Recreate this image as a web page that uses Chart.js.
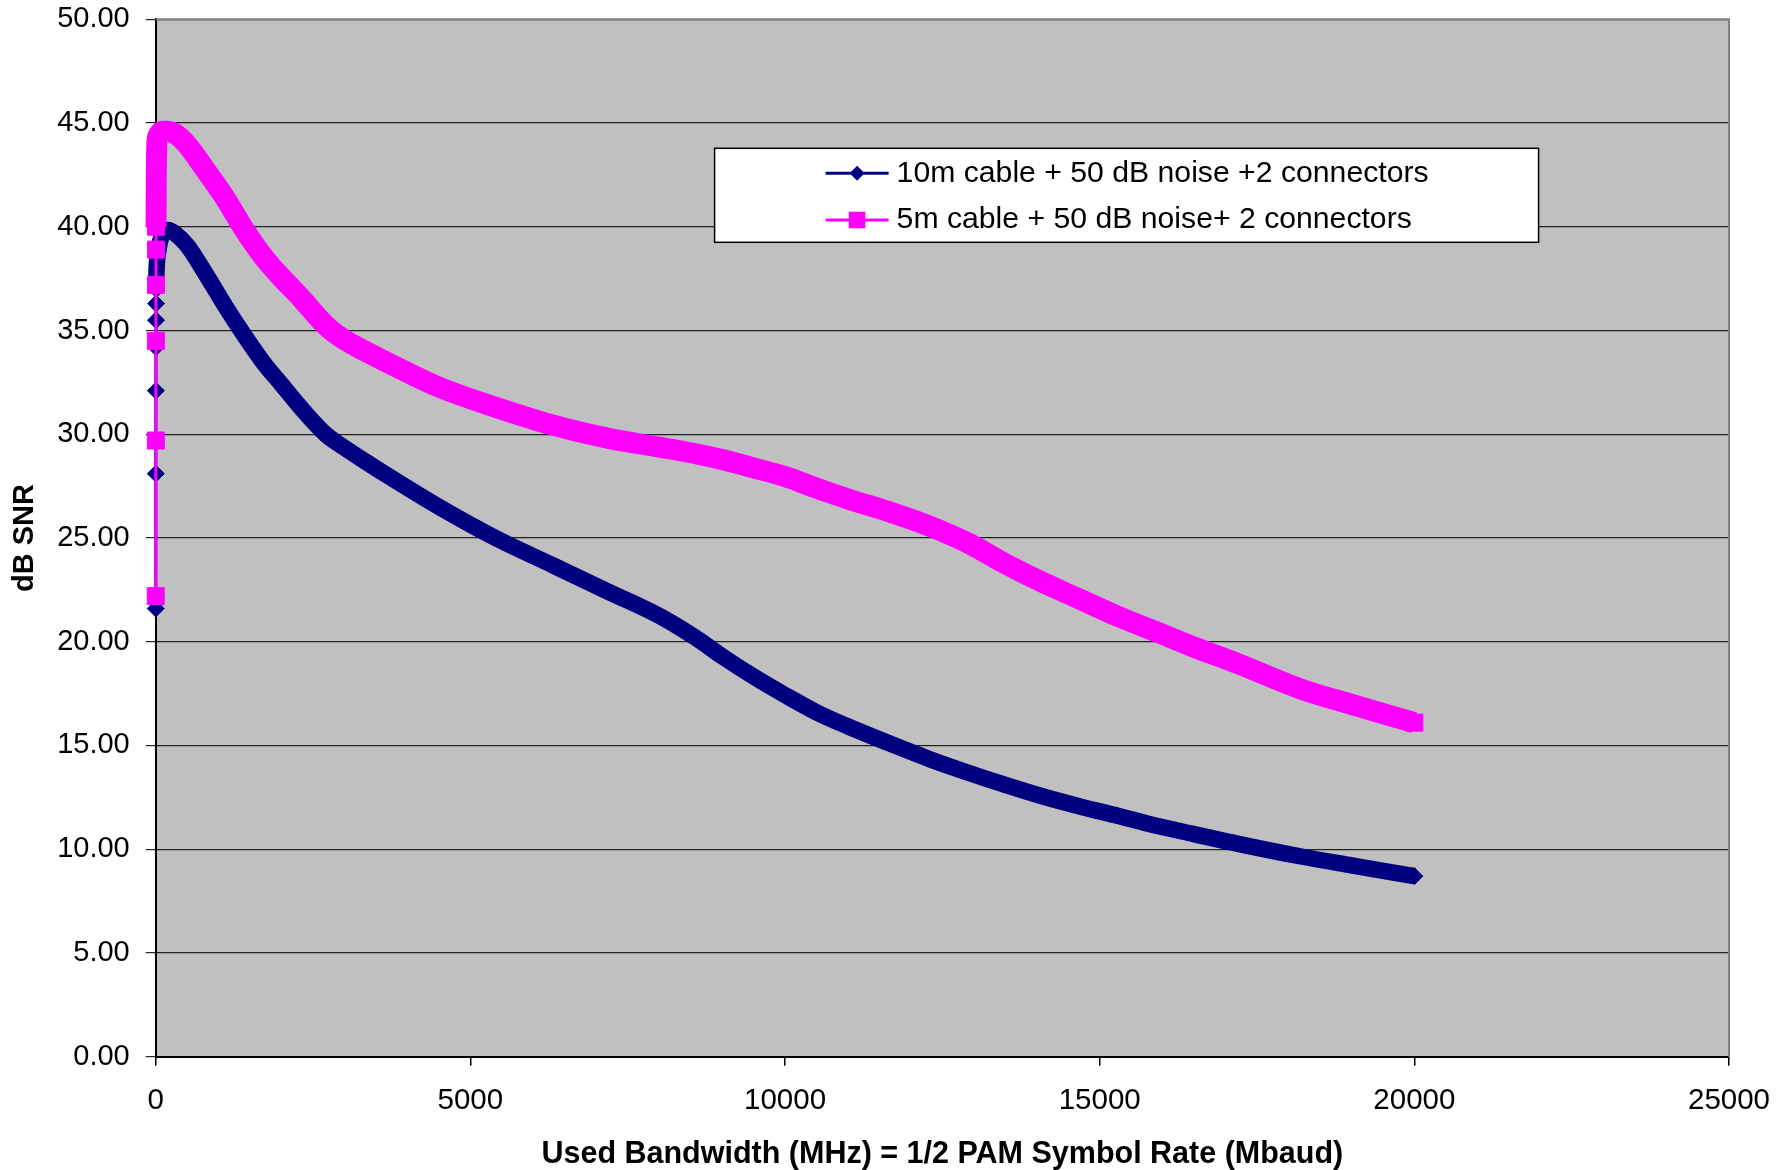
<!DOCTYPE html>
<html>
<head>
<meta charset="utf-8">
<title>dB SNR x Used Bandwidth</title>
<script src="https://cdn.jsdelivr.net/npm/chart.js@4.4.1/dist/chart.umd.min.js"></script>
<style>
  body { margin: 0; background: #fff; }
  canvas { display: block; }
</style>
</head>
<body>
<canvas id="grafico" width="1781" height="1170"></canvas>
<script>
// Dados
const bandwidth = [1, 2, 3, 4, 5, 6, 8, 10, 15, 20, 40, 70, 120, 200, 300, 500, 800, 1100, 1400, 1700,
  2000, 2300, 2700, 3000, 3300, 3900, 4500, 5400, 6300, 7200, 8000, 8600, 9000, 9500, 10000, 10500,
  11000, 11700, 12300, 12900, 13500, 14100, 14700, 15300, 15900, 16500, 17200, 18200, 19000, 20000];

const snr10m = [21.6, 28.1, 32.1, 34.2, 35.5, 36.3, 37.0, 37.6, 38.0, 38.3, 38.8, 39.3, 39.7, 39.85, 39.7, 39.1, 37.7, 36.2, 34.8, 33.5,
  32.4, 31.3, 30.0, 29.35, 28.75, 27.6, 26.5, 25.0, 23.7, 22.4, 21.25, 20.15, 19.3, 18.32, 17.43, 16.6,
  15.92, 15.05, 14.34, 13.7, 13.1, 12.54, 12.05, 11.6, 11.13, 10.73, 10.26, 9.65, 9.22, 8.7];

const snr5m = [22.2, 29.7, 34.5, 37.2, 38.9, 40.0, 41.6, 42.6, 43.6, 44.1, 44.4, 44.55, 44.6, 44.6, 44.5, 43.95, 42.7, 41.4, 39.9, 38.6,
  37.55, 36.6, 35.25, 34.55, 34.05, 33.13, 32.27, 31.3, 30.45, 29.8, 29.38, 29.05, 28.78, 28.38, 27.96, 27.4,
  26.88, 26.22, 25.57, 24.77, 23.76, 22.85, 22.03, 21.21, 20.48, 19.74, 18.94, 17.72, 16.98, 16.1];

const seriesNames = ['10m cable + 50 dB noise +2 connectors', '5m cable + 50 dB noise+ 2 connectors'];
const xTicks = [0, 5000, 10000, 15000, 20000, 25000];
const yTicks = [0, 5, 10, 15, 20, 25, 30, 35, 40, 45, 50];

const FONTE = 'Liberation Sans, Arial, sans-serif';
Chart.defaults.font.family = FONTE;
Chart.defaults.color = '#000';

// a partir deste x a linha fica grossa (marcadores densos no original)
function estiloSerie(cor, grossura, inicioGrosso, raio) {
  const ultimo = bandwidth.length - 1;
  return {
    borderColor: cor,
    backgroundColor: cor,
    pointBackgroundColor: cor,
    pointBorderColor: cor,
    pointBorderWidth: 1,
    borderJoinStyle: 'round',
    cubicInterpolationMode: 'monotone',
    clip: false,
    pointRadius: (ctx) => (bandwidth[ctx.dataIndex] <= inicioGrosso || ctx.dataIndex === ultimo) ? raio : 0,
    pointHoverRadius: raio,
    segment: {
      borderWidth: (ctx) => ctx.p0.parsed.x >= inicioGrosso ? grossura : 3
    }
  };
}

// fundo cinza da area do grafico
const fundoPlot = {
  id: 'fundoPlot',
  beforeDraw(chart) {
    const { ctx, chartArea: a } = chart;
    ctx.save();
    ctx.fillStyle = '#c0c0c0';
    ctx.fillRect(a.left, a.top, a.right - a.left, a.bottom - a.top);
    ctx.restore();
  },
  beforeDatasetsDraw(chart) {
    const { ctx, chartArea: a } = chart;
    ctx.save();
    ctx.strokeStyle = '#808080';
    ctx.lineWidth = 2;
    ctx.beginPath();
    ctx.moveTo(a.left, a.top);
    ctx.lineTo(a.right, a.top);
    ctx.lineTo(a.right, a.bottom);
    ctx.stroke();
    ctx.restore();
  }
};

// legenda no estilo do Excel (linha + marcador)
const legendaExcel = {
  id: 'legendaExcel',
  afterDraw(chart) {
    const ctx = chart.ctx;
    const box = { x: 714.6, y: 148.3, w: 824, h: 94 };
    ctx.save();
    ctx.fillStyle = '#fff';
    ctx.fillRect(box.x, box.y, box.w, box.h);
    ctx.strokeStyle = '#000';
    ctx.lineWidth = 1.5;
    ctx.strokeRect(box.x, box.y, box.w, box.h);

    const linhas = [box.y + 25, box.y + 71.7];
    chart.data.datasets.forEach((ds, i) => {
      const y = linhas[i];
      const x0 = box.x + 111, x1 = box.x + 174, xm = (x0 + x1) / 2;
      ctx.strokeStyle = ds.borderColor;
      ctx.lineWidth = 3;
      ctx.beginPath();
      ctx.moveTo(x0, y);
      ctx.lineTo(x1, y);
      ctx.stroke();
      ctx.fillStyle = ds.borderColor;
      ctx.beginPath();
      if (ds.pointStyle === 'rectRot') {
        ctx.moveTo(xm, y - 7.5);
        ctx.lineTo(xm + 7.5, y);
        ctx.lineTo(xm, y + 7.5);
        ctx.lineTo(xm - 7.5, y);
        ctx.closePath();
      } else {
        ctx.rect(xm - 8.3, y - 8.3, 16.6, 16.6);
      }
      ctx.fill();
      ctx.fillStyle = '#000';
      ctx.font = '30.2px ' + FONTE;
      ctx.textAlign = 'left';
      ctx.textBaseline = 'middle';
      ctx.fillText(ds.label, box.x + 182, y);
    });
    ctx.restore();
  }
};

new Chart(document.getElementById('grafico'), {
  type: 'line',
  data: {
    datasets: [
      Object.assign({
        label: seriesNames[0],
        data: bandwidth.map((x, i) => ({ x: x, y: snr10m[i] })),
        pointStyle: 'rectRot',
        order: 1
      }, estiloSerie('#000080', 16.5, 8, 8.5)),
      Object.assign({
        label: seriesNames[1],
        data: bandwidth.map((x, i) => ({ x: x, y: snr5m[i] })),
        pointStyle: 'rect',
        order: 0
      }, estiloSerie('#ff00ff', 21, 6, 12))
    ]
  },
  options: {
    responsive: false,
    animation: false,
    events: [],
    layout: { padding: { top: 19.3, right: 52, left: 0, bottom: 0 } },
    plugins: {
      legend: { display: false },
      tooltip: { enabled: false }
    },
    scales: {
      x: {
        type: 'linear',
        min: 0,
        max: 25000,
        afterBuildTicks: (s) => { s.ticks = xTicks.map(v => ({ value: v })); },
        afterFit: (s) => { s.height = 113.3; s.paddingLeft = 0; s.paddingRight = 0; },
        ticks: {
          autoSkip: false,
          maxRotation: 0,
          padding: 17,
          font: { size: 29.5 },
          callback: (v) => String(v)
        },
        grid: { drawOnChartArea: false, drawTicks: true, tickLength: 9, color: '#000', lineWidth: 1.5 },
        border: { display: true, color: '#000', width: 2 },
        title: {
          display: true,
          text: 'Used Bandwidth (MHz) = 1/2 PAM Symbol Rate (Mbaud)',
          font: { size: 30.5, weight: 'bold' },
          padding: { top: 0, bottom: -3 }
        }
      },
      y: {
        min: 0,
        max: 50,
        afterBuildTicks: (s) => { s.ticks = yTicks.map(v => ({ value: v })); },
        afterFit: (s) => { s.width = 155.7; s.paddingTop = 0; s.paddingBottom = 0; },
        ticks: {
          autoSkip: false,
          padding: 16,
          font: { size: 29 },
          callback: (v) => v.toFixed(2)
        },
        grid: { drawTicks: true, tickLength: 10, color: '#222', lineWidth: 1.2 },
        border: { display: true, color: '#000', width: 2 },
        title: {
          display: true,
          text: 'dB SNR',
          font: { size: 29, weight: 'bold' },
          padding: { top: 8, bottom: 0 }
        }
      }
    }
  },
  plugins: [fundoPlot, legendaExcel]
});
</script>
</body>
</html>
